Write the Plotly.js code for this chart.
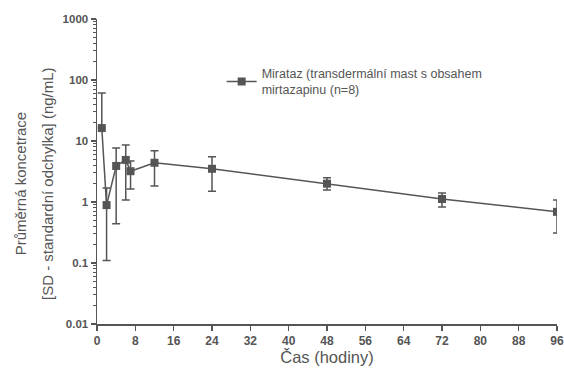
<!DOCTYPE html>
<html>
<head>
<meta charset="utf-8">
<script src="https://cdn.plot.ly/plotly-3.0.1.min.js"></script>
<style>html,body{margin:0;padding:0;background:#fff}#chart{width:564px;height:369px}</style>
</head>
<body>
<div id="chart"></div>
<script>
const hours = [1, 2, 4, 6, 7, 12, 24, 48, 72, 96];
const meanConc = [16.3, 0.89, 3.9, 4.9, 3.2, 4.4, 3.5, 2.0, 1.12, 0.69];
const sdUpper = [44.7, 0.81, 3.8, 3.7, 1.5, 2.5, 2.0, 0.5, 0.28, 0.39];
const sdLower = [0, 0.78, 3.46, 3.82, 1.57, 2.57, 2.0, 0.43, 0.29, 0.38];
const xTicks = [0, 8, 16, 24, 32, 40, 48, 56, 64, 72, 80, 88, 96];
const yTickVals = [0.01, 0.1, 1, 10, 100, 1000];
const yTickText = ['0.01', '0.1', '1', '10', '100', '1000'];
const seriesName = 'Mirataz (transdermální mast s obsahem<br>mirtazapinu (n=8)';
const yTitleLines = ['Průměrná koncetrace', '[SD - standardní odchylka] (ng/mL)'];
const xTitle = 'Čas (hodiny)';

const grey = '#555555';
const trace = {
  x: hours, y: meanConc, type: 'scatter', mode: 'lines+markers',
  name: seriesName,
  line: {color: grey, width: 1.5},
  marker: {symbol: 'square', size: 8, color: grey},
  error_y: {type: 'data', symmetric: false, array: sdUpper, arrayminus: sdLower,
            color: grey, thickness: 1.5, width: 4}
};
const layout = {
  width: 564, height: 369,
  margin: {l: 97, r: 7, t: 19, b: 45},
  paper_bgcolor: '#fff', plot_bgcolor: '#fff',
  font: {family: 'Liberation Sans, Arial, sans-serif', color: grey},
  showlegend: true,
  legend: {x: 0.271, y: 0.87, xanchor: 'left', yanchor: 'top',
           font: {size: 12.5, color: grey}, bgcolor: 'rgba(0,0,0,0)'},
  xaxis: {
    range: [0, 96], tickvals: xTicks, ticktext: xTicks.map(String),
    showline: true, linecolor: grey, linewidth: 1.5, zeroline: false, showgrid: false,
    ticks: 'outside', ticklen: 5, tickwidth: 1.5, tickcolor: grey,
    tickfont: {size: 12, color: grey, weight: 700},
    title: {text: xTitle, font: {size: 16.5, color: grey}, standoff: 3}
  },
  yaxis: {
    type: 'log', range: [-2, 3], tickvals: yTickVals, ticktext: yTickText,
    showline: true, linecolor: grey, linewidth: 1.5, zeroline: false, showgrid: false,
    ticks: 'outside', ticklen: 5, tickwidth: 1.5, tickcolor: grey,
    tickfont: {size: 11.5, color: grey, weight: 700},
    minor: {dtick: 'D1', ticks: 'outside', ticklen: 3, tickwidth: 1, tickcolor: grey, showgrid: false}
  },
  annotations: [
    {text: yTitleLines[0], xref: 'paper', yref: 'paper', x: -0.166, y: 0.46,
     xanchor: 'center', yanchor: 'middle', textangle: -90, showarrow: false,
     font: {size: 15, color: grey}},
    {text: yTitleLines[1], xref: 'paper', yref: 'paper', x: -0.108, y: 0.46,
     xanchor: 'center', yanchor: 'middle', textangle: -90, showarrow: false,
     font: {size: 15, color: grey}}
  ]
};
Plotly.newPlot('chart', [trace], layout, {displayModeBar: false, staticPlot: true});
</script>
</body>
</html>
